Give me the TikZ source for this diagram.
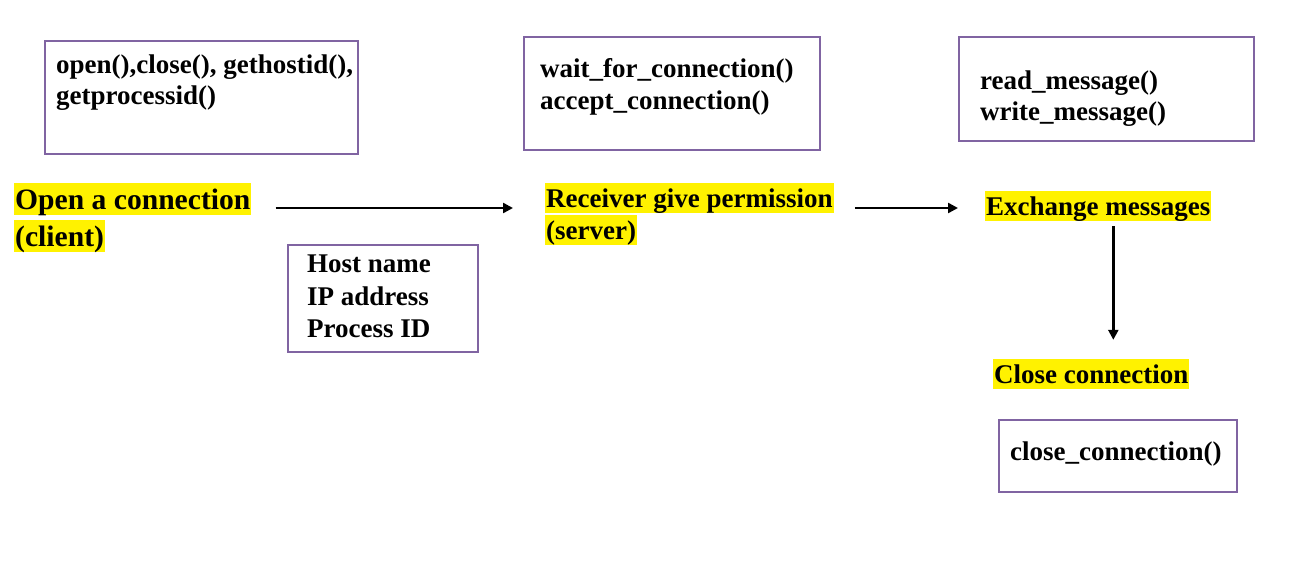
\documentclass[tikz,border=0pt]{standalone}
\usepackage{fontspec}
\setmainfont{Liberation Serif}
\usetikzlibrary{arrows.meta}
\definecolor{hl}{RGB}{255,242,0}
\definecolor{boxc}{RGB}{128,100,162}
\begin{document}
\begin{tikzpicture}[x=1pt,y=-1pt,
  box/.style={draw=boxc,line width=1.5pt,rectangle,inner sep=0pt,anchor=north west},
  code/.style={font=\fontsize{27}{32}\selectfont\bfseries,inner sep=0pt,anchor=base west},
  lbl/.style={font=\fontsize{27}{32}\selectfont\bfseries,fill=hl,inner xsep=1pt,inner ysep=0pt,text height=24pt,text depth=5.8pt,anchor=base west},
  big/.style={lbl,font=\fontsize{29.6}{36}\selectfont\bfseries,text height=26.4pt,text depth=6.4pt},
  arr/.style={-{Triangle[length=10pt,width=10pt]},line width=2.4pt}]
\useasboundingbox (0,0) rectangle (1303,584);
% boxes
\node[box,minimum width=313pt,minimum height=113pt] (b1) at (44,40) {};
\node[code] (b1a) at (56,73) {open(),close(), gethostid(),};
\node[code] (b1b) at (56,104) {getprocessid()};
\node[box,minimum width=296pt,minimum height=113pt] (b2) at (523,36) {};
\node[code] (b2a) at (540,77) {wait\_for\_connection()};
\node[code] (b2b) at (540,109) {accept\_connection()};
\node[box,minimum width=295pt,minimum height=104pt] (b3) at (958,36) {};
\node[code] (b3a) at (980,89) {read\_message()};
\node[code] (b3b) at (980,120) {write\_message()};
\node[box,minimum width=190pt,minimum height=107pt] (b4) at (287,244) {};
\node[code] (b4a) at (307,272) {Host name};
\node[code] (b4b) at (307,305) {IP address};
\node[code] (b4c) at (307,337) {Process ID};
\node[box,minimum width=238pt,minimum height=72pt] (b5) at (998,419) {};
\node[code] (b5a) at (1010,460) {close\_connection()};
% labels
\node[big] (open1) at (14,209) {Open a connection};
\node[big] (open2) at (14,246) {(client)};
\node[lbl] (recv1) at (545,207) {Receiver give permission};
\node[lbl] (recv2) at (545,239) {(server)};
\node[lbl] (exch) at (985,215) {Exchange messages};
\node[lbl] (close) at (993,383) {Close connection};
% arrows
\path ([xshift=24pt,yshift=1pt]open1.base east) coordinate (a1);
\draw[arr,shorten >=32pt] (a1) -- (a1 -| recv1.west);
\path ([xshift=21pt,yshift=-1pt]recv1.base east) coordinate (a2);
\draw[arr,shorten >=27pt] (a2) -- (a2 -| exch.west);
\path ([xshift=15pt,yshift=-5pt]exch.south) coordinate (a3);
\draw[arr,shorten >=19pt] (a3) -- (a3 |- close.north);
\end{tikzpicture}
\end{document}
